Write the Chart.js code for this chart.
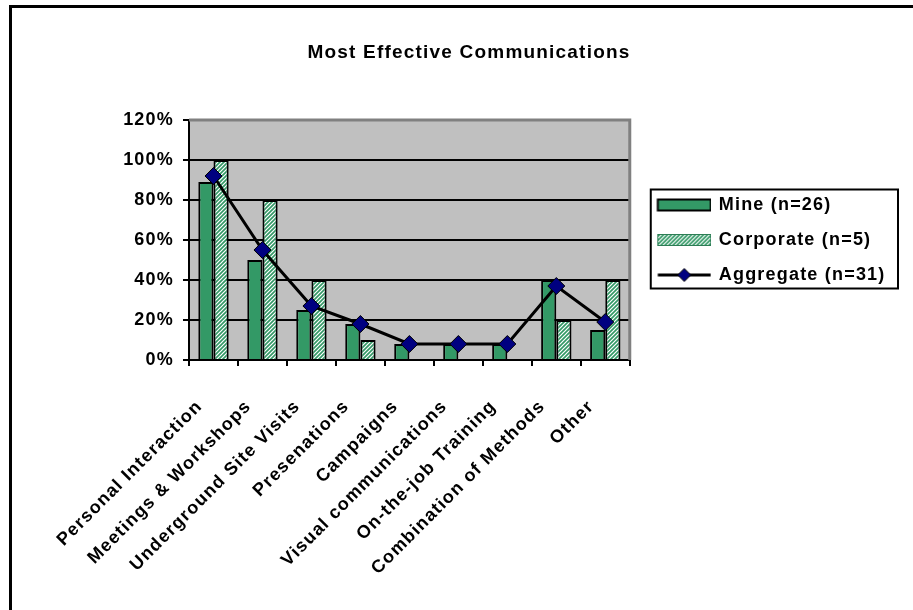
<!DOCTYPE html>
<html>
<head>
<meta charset="utf-8">
<script src="https://cdn.jsdelivr.net/npm/chart.js@4/dist/chart.umd.min.js"></script>
<style>
  html, body { margin: 0; padding: 0; background: #fff; overflow: hidden; }
  #wrap { position: relative; width: 913px; height: 610px; overflow: hidden; }
  #frame { position: absolute; left: 9px; top: 5px; width: 1000px; height: 1000px;
           border-left: 3px solid #000; border-top: 3px solid #000; }
  #c { position: absolute; left: 0; top: 0; }
</style>
</head>
<body>
<div id="wrap">
  <div id="frame"></div>
  <canvas id="c" width="913" height="610"></canvas>
</div>
<script>
// Survey results: share of respondents naming each communication method
const categories = [
  'Personal Interaction', 'Meetings & Workshops', 'Underground Site Visits',
  'Presenations', 'Campaigns', 'Visual communications', 'On-the-job Training',
  'Combination of Methods', 'Other'
];
const mineValues      = [89, 50, 25, 18, 8, 8, 8, 40, 15];
const corporateValues = [100, 80, 40, 10, 0, 0, 0, 20, 40];
const aggregateValues = [92, 55, 27, 18, 8, 8, 8, 37, 19];
const yTickLabels = ['0%', '20%', '40%', '60%', '80%', '100%', '120%'];
const seriesNames = ['Mine (n=26)', 'Corporate (n=5)', 'Aggregate (n=31)'];
const chartTitle = 'Most Effective Communications';

const GREEN = '#339966';
const NAVY = '#000080';
const FONT = "'Liberation Sans', Arial, sans-serif";
const FONT_SIZE = 18;
const TITLE_SIZE = 19;
const SPACING = '1.2px';

// diagonal hatch used for the corporate series
function makeHatch() {
  const p = document.createElement('canvas');
  p.width = 4; p.height = 4;
  const g = p.getContext('2d');
  g.fillStyle = GREEN;
  g.fillRect(0, 0, 4, 4);
  g.strokeStyle = '#ffffff';
  g.lineWidth = 1.2;
  g.beginPath();
  g.moveTo(-1, 5); g.lineTo(5, -1);
  g.moveTo(3, 5); g.lineTo(5, 3);
  g.moveTo(-1, 1); g.lineTo(1, -1);
  g.stroke();
  return document.createElement('canvas').getContext('2d').createPattern(p, 'repeat');
}
const hatch = makeHatch();

// legend swatches (transparent margin on the left keeps them aligned)
function swatch(kind) {
  const c = document.createElement('canvas');
  c.width = 66; c.height = 18;
  const g = c.getContext('2d');
  const x0 = 12.5, w = 53, y0 = 3.5, h = 11;
  if (kind === 'bar') {
    g.fillStyle = GREEN; g.fillRect(x0, y0, w, h);
    g.strokeStyle = '#000'; g.lineWidth = 2; g.strokeRect(x0, y0, w, h);
  } else if (kind === 'hatch') {
    g.fillStyle = hatch; g.fillRect(x0, y0, w, h);
    g.strokeStyle = '#2e7d55'; g.lineWidth = 1; g.strokeRect(x0, y0, w, h);
  } else {
    g.strokeStyle = '#000'; g.lineWidth = 3;
    g.beginPath(); g.moveTo(x0, 9); g.lineTo(x0 + w, 9); g.stroke();
    const cx = x0 + w / 2, r = 6.5;
    g.beginPath();
    g.moveTo(cx, 9 - r); g.lineTo(cx + r, 9); g.lineTo(cx, 9 + r); g.lineTo(cx - r, 9); g.closePath();
    g.fillStyle = NAVY; g.fill();
    g.lineWidth = 1; g.stroke();
  }
  return c;
}
const swatches = [swatch('bar'), swatch('hatch'), swatch('line')];

const spacingPlugin = {
  id: 'spacing',
  beforeUpdate(chart) { chart.ctx.letterSpacing = SPACING; },
  beforeLayout(chart) { chart.ctx.letterSpacing = SPACING; },
  beforeDraw(chart) { chart.ctx.letterSpacing = SPACING; }
};

const plotFrame = {
  id: 'plotFrame',
  beforeDraw(chart) {
    const { ctx, chartArea: a } = chart;
    ctx.save();
    ctx.fillStyle = '#c0c0c0';
    ctx.fillRect(a.left, a.top, a.right - a.left, a.bottom - a.top);
    ctx.restore();
  },
  beforeDatasetsDraw(chart) {
    const { ctx, chartArea: a } = chart;
    ctx.save();
    ctx.strokeStyle = '#808080';
    ctx.lineWidth = 3;
    ctx.beginPath();
    ctx.moveTo(a.left, a.top);
    ctx.lineTo(a.right, a.top);
    ctx.lineTo(a.right, a.bottom);
    ctx.stroke();
    ctx.restore();
  },
  afterDraw(chart) {
    const lg = chart.legend;
    if (!lg || !lg.legendHitBoxes.length) return;
    const hb = lg.legendHitBoxes;
    const first = hb[0], last = hb[hb.length - 1];
    const ctx = chart.ctx;
    ctx.save();
    ctx.strokeStyle = '#000';
    ctx.lineWidth = 2;
    const l = first.left + 4, t = first.top - 6.5;
    const r = 898, b = last.top + last.height + 4.5;
    ctx.strokeRect(l, t, r - l, b - t);
    ctx.restore();
  }
};

Chart.defaults.font.family = FONT;
Chart.defaults.font.size = FONT_SIZE;
Chart.defaults.font.weight = 'bold';
Chart.defaults.color = '#000';

new Chart(document.getElementById('c'), {
  type: 'bar',
  data: {
    labels: categories,
    datasets: [
      {
        type: 'line', label: seriesNames[2], data: aggregateValues, order: 0,
        borderColor: '#000', borderWidth: 3, tension: 0,
        pointStyle: 'rectRot', pointRadius: 8.5, pointBackgroundColor: NAVY,
        pointBorderColor: '#000', pointBorderWidth: 1
      },
      {
        label: seriesNames[0], data: mineValues, order: 1,
        backgroundColor: GREEN, borderColor: '#000', borderWidth: 2
      },
      {
        label: seriesNames[1], data: corporateValues, order: 1,
        backgroundColor: hatch, borderColor: '#000', borderWidth: 2
      }
    ]
  },
  options: {
    responsive: false,
    animation: false,
    devicePixelRatio: 1,
    datasets: { bar: { categoryPercentage: 0.62, barPercentage: 1.0 } },
    layout: { padding: { left: 42.5, right: 17.5, top: 0, bottom: 0 } },
    plugins: {
      tooltip: { enabled: false },
      title: {
        display: true, text: chartTitle, color: '#000',
        font: { family: FONT, size: TITLE_SIZE, weight: 'bold' },
        padding: { top: 41.6, bottom: 55.6 }
      },
      legend: {
        position: 'right',
        align: 'center',
        fullSize: false,
        maxWidth: 400,
        labels: {
          usePointStyle: true,
          pointStyleWidth: 63,
          boxHeight: 18,
          padding: 17,
          color: '#000',
          font: { family: FONT, size: FONT_SIZE, weight: 'bold' },
          generateLabels() {
            const order = [1, 2, 0];
            return order.map((di, k) => ({
              text: seriesNames[k], pointStyle: swatches[k], datasetIndex: di,
              hidden: false, lineWidth: 0, fillStyle: 'transparent',
              strokeStyle: 'transparent', fontColor: '#000'
            }));
          }
        }
      }
    },
    scales: {
      x: {
        grid: { display: true, drawOnChartArea: false, drawTicks: true, tickLength: 6,
                color: '#000', lineWidth: 2, offset: true },
        border: { display: true, color: '#000', width: 2 },
        ticks: { minRotation: 45, maxRotation: 45, autoSkip: false, padding: 30, labelOffset: -14 },
        afterFit(scale) { scale.height = 250; }
      },
      y: {
        min: 0, max: 120,
        ticks: { stepSize: 20, padding: 9, callback: (v, i) => yTickLabels[i] },
        grid: { color: c => (c.tick && c.tick.value === 120 ? '#808080' : '#000'),
                lineWidth: 2, tickLength: 6, tickColor: '#000', tickWidth: 2 },
        border: { display: true, color: '#000', width: 2 },
        afterFit(scale) { scale.width = 146.5; }
      }
    }
  },
  plugins: [spacingPlugin, plotFrame]
});
</script>
</body>
</html>
